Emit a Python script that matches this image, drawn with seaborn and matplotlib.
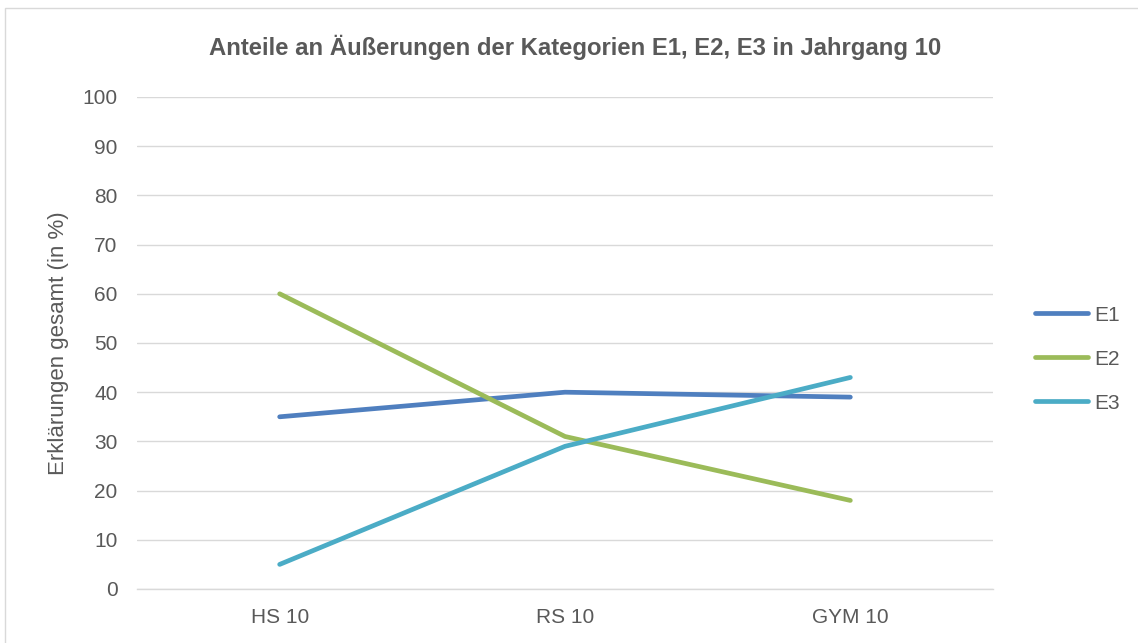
import matplotlib
matplotlib.use("Agg")
import matplotlib.pyplot as plt
import seaborn as sns
import pandas as pd
from matplotlib.patches import Rectangle
from matplotlib.lines import Line2D

categories = ["HS 10", "RS 10", "GYM 10"]
e1 = [35, 40, 39]
e2 = [60, 31, 18]
e3 = [5, 29, 43]
series_names = ["E1", "E2", "E3"]
yticks = list(range(0, 101, 10))

colors = {"E1": "#4F7FBF", "E2": "#9BBB59", "E3": "#4BACC6"}

sns.set_theme(style="white")
plt.rcParams['font.family'] = ['Liberation Sans Narrow', 'Liberation Sans', 'DejaVu Sans']

df = pd.DataFrame({
    "cat": categories * 3,
    "x": list(range(len(categories))) * 3,
    "value": e1 + e2 + e3,
    "series": [s for s in series_names for _ in categories],
})

fig = plt.figure(figsize=(11.38, 6.43), dpi=100)
ax = fig.add_axes([137/1138, 1 - 589/643, (993-137)/1138, (589-97)/643])

sns.lineplot(data=df, x="x", y="value", hue="series", palette=colors,
             linewidth=3.4, ax=ax, legend=False, solid_capstyle="round")

ax.set_xlim(-0.5, 2.5)
ax.set_ylim(0, 100)
ax.set_yticks(yticks)
ax.set_xticks(range(len(categories)))
ax.set_xticklabels(categories)
ax.grid(axis="y", color="#D9D9D9", linewidth=1)
ax.set_axisbelow(True)
for s in ["top", "right", "left"]:
    ax.spines[s].set_visible(False)
ax.spines["bottom"].set_color("#D9D9D9")
ax.spines["bottom"].set_linewidth(1)
ax.tick_params(axis="both", colors="#595959", labelsize=15, length=0)
ax.tick_params(axis="y", pad=14)
ax.tick_params(axis="x", pad=14)
ax.set_xlabel("")
ax.set_ylabel("Erklärungen gesamt (in %)", color="#595959", fontsize=16, labelpad=10)

fig.text(575/1138, 1 - 47/643, "Anteile an Äußerungen der Kategorien E1, E2, E3 in Jahrgang 10",
         ha="center", va="center", fontsize=17.2, fontweight="bold", color="#595959")

handles = [Line2D([0], [0], color=colors[n], linewidth=3.4, solid_capstyle="round") for n in series_names]
leg = fig.legend(handles, series_names, loc="center left", bbox_to_anchor=(1016/1138, 1 - 359/643),
                 frameon=False, fontsize=15, handlelength=2.55, labelspacing=1.2, handletextpad=0.3)
for t in leg.get_texts():
    t.set_color("#595959")

fig.patches.append(Rectangle((5/1138, -0.01), 1.1, 1 - 8/643 + 0.01, transform=fig.transFigure,
                             fill=False, edgecolor="#D9D9D9", linewidth=1))

fig.savefig("out.png", dpi=100)
